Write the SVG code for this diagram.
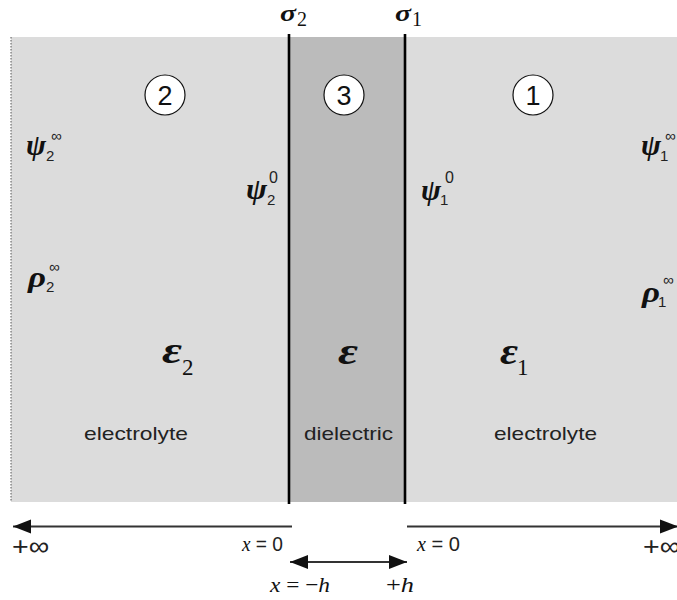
<svg xmlns="http://www.w3.org/2000/svg" width="677" height="600" viewBox="0 0 677 600">
<style>
.m{font-family:"Liberation Serif",serif;font-style:italic;font-weight:bold;fill:#111}
.e{font-family:"Liberation Serif",serif;font-style:italic;fill:#111}
.sr{font-family:"Liberation Serif",serif;fill:#111}
.ss{font-family:"Liberation Sans",sans-serif;fill:#222}
.lbl{font-family:"Liberation Sans",sans-serif;font-size:19px;fill:#222}
.num{font-family:"Liberation Sans",sans-serif;font-size:27px;fill:#111;text-anchor:middle}
.circ{fill:#fff;stroke:#111;stroke-width:1.2}
.wall{stroke:#000;stroke-width:2.6}
.ax{stroke:#333;stroke-width:2;fill:none}
</style>
<defs>
<marker id="ah" markerUnits="userSpaceOnUse" markerWidth="20" markerHeight="16" refX="18" refY="8" orient="auto-start-reverse">
<path d="M0,1 L18,8 L0,15 Z" fill="#111"/>
</marker>
</defs>

<g id="region-2">
<rect x="11" y="37" width="278" height="465" fill="#dcdcdc"/>
<line x1="11" y1="37" x2="11" y2="502" stroke="#555" stroke-width="1" stroke-dasharray="1.5,1.5"/>
<ellipse class="circ" cx="165" cy="95" rx="20" ry="20"/>
<text class="num" x="165" y="105">2</text>
<text class="m" x="26" y="155" font-size="29" textLength="20" lengthAdjust="spacingAndGlyphs">ψ</text>
<text class="ss" x="46" y="161" font-size="15">2</text>
<text class="ss" x="51" y="141" font-size="15">∞</text>
<text class="m" x="246" y="199" font-size="29" textLength="21" lengthAdjust="spacingAndGlyphs">ψ</text>
<text class="ss" x="267" y="205" font-size="15">2</text>
<text class="ss" x="269" y="183" font-size="16">0</text>
<text class="m" x="28" y="287" font-size="29" textLength="18" lengthAdjust="spacingAndGlyphs">ρ</text>
<text class="ss" x="46" y="292" font-size="15">2</text>
<text class="ss" x="49" y="272" font-size="15">∞</text>
<text class="m" x="162" y="363" font-size="38" textLength="20" lengthAdjust="spacingAndGlyphs">ε</text>
<text class="sr" x="182" y="375" font-size="23">2</text>
<text class="lbl" x="84" y="440" textLength="104" lengthAdjust="spacingAndGlyphs">electrolyte</text>
</g>

<g id="region-3">
<rect x="289" y="37" width="116" height="465" fill="#bbbbbb"/>
<ellipse class="circ" cx="344" cy="95" rx="20" ry="20"/>
<text class="num" x="344" y="105">3</text>
<text class="m" x="338" y="364" font-size="38" textLength="20" lengthAdjust="spacingAndGlyphs">ε</text>
<text class="lbl" x="304" y="440" textLength="89" lengthAdjust="spacingAndGlyphs">dielectric</text>
</g>

<g id="region-1">
<rect x="405" y="37" width="272" height="465" fill="#dcdcdc"/>
<ellipse class="circ" cx="533" cy="95" rx="20" ry="20"/>
<text class="num" x="533" y="105">1</text>
<text class="m" x="641" y="155" font-size="29" textLength="20" lengthAdjust="spacingAndGlyphs">ψ</text>
<text class="ss" x="660" y="161" font-size="15">1</text>
<text class="ss" x="665" y="141" font-size="15">∞</text>
<text class="m" x="421" y="200" font-size="29" textLength="20" lengthAdjust="spacingAndGlyphs">ψ</text>
<text class="ss" x="440" y="205" font-size="15">1</text>
<text class="ss" x="445" y="183" font-size="16">0</text>
<text class="m" x="642" y="302" font-size="29" textLength="18" lengthAdjust="spacingAndGlyphs">ρ</text>
<text class="ss" x="658" y="307" font-size="15">1</text>
<text class="ss" x="663" y="285" font-size="15">∞</text>
<text class="m" x="500" y="364" font-size="38" textLength="18" lengthAdjust="spacingAndGlyphs">ε</text>
<text class="sr" x="517" y="375" font-size="23">1</text>
<text class="lbl" x="494" y="440" textLength="103" lengthAdjust="spacingAndGlyphs">electrolyte</text>
</g>

<g id="interfaces">
<line class="wall" x1="289" y1="34" x2="289" y2="504"/>
<line class="wall" x1="405" y1="34" x2="405" y2="504"/>
<text class="m" x="280" y="21" font-size="24" textLength="16" lengthAdjust="spacingAndGlyphs">σ</text>
<text class="sr" x="297" y="26" font-size="20">2</text>
<text class="m" x="395" y="21" font-size="24" textLength="16" lengthAdjust="spacingAndGlyphs">σ</text>
<text class="sr" x="412" y="26" font-size="20">1</text>
</g>

<g id="connectors">
<line class="ax" x1="292" y1="526.5" x2="13" y2="526.5" marker-end="url(#ah)"/>
<line class="ax" x1="407" y1="526.5" x2="678" y2="526.5" marker-end="url(#ah)"/>
<line class="ax" x1="290" y1="562" x2="407" y2="562" stroke="#111" marker-start="url(#ah)" marker-end="url(#ah)"/>
</g>

<g id="axis-labels">
<text class="ss" x="12" y="555" font-size="26" fill="#111" textLength="37" lengthAdjust="spacingAndGlyphs">+∞</text>
<text class="ss" x="643" y="555" font-size="26" fill="#111" textLength="37" lengthAdjust="spacingAndGlyphs">+∞</text>
<text x="242" y="551" font-size="20" fill="#222" textLength="41" lengthAdjust="spacingAndGlyphs"><tspan class="e">x</tspan><tspan class="ss"> = 0</tspan></text>
<text x="417" y="551" font-size="20" fill="#222" textLength="43" lengthAdjust="spacingAndGlyphs"><tspan class="e">x</tspan><tspan class="ss"> = 0</tspan></text>
<text x="270" y="592" font-size="22" fill="#222" textLength="60" lengthAdjust="spacingAndGlyphs"><tspan class="e">x</tspan><tspan class="sr"> = −</tspan><tspan class="e">h</tspan></text>
<text x="386" y="592" font-size="22" fill="#222" textLength="28" lengthAdjust="spacingAndGlyphs"><tspan class="sr">+</tspan><tspan class="e">h</tspan></text>
</g>
</svg>
